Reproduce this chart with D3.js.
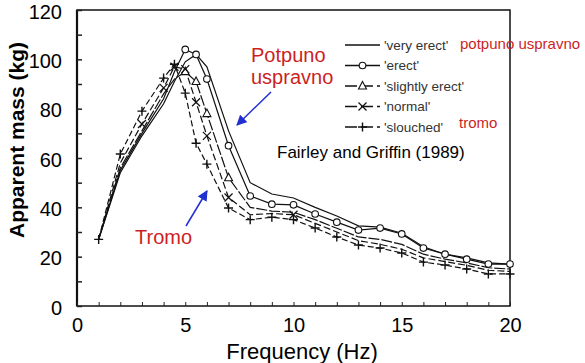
<!DOCTYPE html>
<html>
<head>
<meta charset="utf-8">
<script src="https://cdn.jsdelivr.net/npm/d3@7"></script>
<style>
  body { margin: 0; background: #fff; }
  svg text { font-family: "Liberation Sans", Arial, sans-serif; }
</style>
</head>
<body>
<svg id="chart" width="585" height="363"></svg>
<script>
// frequencies (Hz) shared by all series
const freqs = [1, 2, 3, 4, 4.5, 5, 5.5, 6, 7, 8, 9, 10, 11, 12, 13, 14, 15, 16, 17, 18, 19, 20];

// apparent mass (kg)
const veryErect     = [27, 54, 69, 82, 91, 99, 102, 97, 71, 50, 45.4, 43.8, 40, 36.5, 32.5, 32, 29.5, 24, 21, 19.5, 17.5, 17];
const erect         = [27, 55, 70, 84, 95, 104, 102, 92, 65, 44.6, 41.3, 41, 37.3, 34, 30.8, 31.6, 29.2, 23.5, 21, 19, 17, 17];
const slightlyErect = [27, 56, 71, 86, 92, 95, 91, 78, 52, 40, 38.5, 38, 35, 31.5, 28, 27, 25, 21, 19, 17.5, 15.5, 15];
const normal        = [27, 58, 73.8, 88.4, 97, 96, 82.6, 69, 44, 37, 37.5, 37, 33.5, 30, 26.5, 25, 23, 19.5, 18, 16.5, 14.5, 14];
const slouched      = [27, 61.6, 79, 92.4, 98, 86.3, 66, 57.5, 39.7, 35, 36, 35, 31.6, 28, 24.7, 23.5, 21.5, 17.8, 16.6, 15, 13, 13];

// frequencies where a symbol is visible in the figure
const erectMarks    = [5, 5.5, 6, 7, 8, 9, 10, 11, 12, 13, 14, 15, 16, 17, 18, 19, 20];
const slightlyMarks = [5, 5.5, 6, 7];
const normalMarks   = [3, 4, 4.5, 5, 5.5, 6, 7, 10];
const slouchedMarks = freqs;

const legendLabels = ["'very erect'", "'erect'", "'slightly erect'", "'normal'", "'slouched'"];
const xTicks = d3.range(0, 21, 1);
const xLabels = [0, 5, 10, 15, 20];
const yTicks = d3.range(0, 121, 10);
const yLabels = [0, 20, 40, 60, 80, 100, 120];

const svg = d3.select("#chart");
const x = d3.scaleLinear().domain([0, 20]).range([77, 510]);
const y = d3.scaleLinear().domain([0, 120]).range([306, 10]);

const series = [
  { name: legendLabels[0], values: veryErect, marks: [], sym: null, dash: null },
  { name: legendLabels[1], values: erect, marks: erectMarks, sym: "circle", dash: null },
  { name: legendLabels[2], values: slightlyErect, marks: slightlyMarks, sym: "triangle", dash: "11,2" },
  { name: legendLabels[3], values: normal, marks: normalMarks, sym: "x", dash: "7,3" },
  { name: legendLabels[4], values: slouched, marks: slouchedMarks, sym: "plus", dash: "6,3" }
];

// frame
svg.append("rect")
  .attr("x", x(0)).attr("y", y(120))
  .attr("width", x(20) - x(0)).attr("height", y(0) - y(120))
  .attr("fill", "none").attr("stroke", "#111").attr("stroke-width", 1.5);
svg.append("line")
  .attr("x1", x(0)).attr("x2", x(0)).attr("y1", y(120)).attr("y2", y(0))
  .attr("stroke", "#111").attr("stroke-width", 2.2);

// x axis (ticks inside)
svg.append("g")
  .attr("transform", `translate(0,${y(0)})`)
  .call(d3.axisTop(x).tickValues(xTicks).tickSize(4).tickFormat(""))
  .call(g => g.select(".domain").remove())
  .selectAll("line").attr("stroke", "#222");
svg.append("g")
  .attr("transform", `translate(0,${y(0)})`)
  .call(d3.axisBottom(x).tickValues(xLabels).tickSize(0).tickPadding(12).tickFormat(d3.format("d")))
  .call(g => g.select(".domain").remove())
  .selectAll("text").attr("font-size", 20).attr("fill", "#000")
  .style("font-family", "Liberation Sans, Arial, sans-serif");

// y axis (ticks inside)
svg.append("g")
  .attr("transform", `translate(${x(0)},0)`)
  .call(d3.axisRight(y).tickValues(yTicks).tickSize(5).tickFormat(""))
  .call(g => g.select(".domain").remove())
  .selectAll("line").attr("stroke", "#222").attr("stroke-width", 1.5);
svg.append("g")
  .attr("transform", `translate(${x(0)},0)`)
  .call(d3.axisLeft(y).tickValues(yLabels).tickSize(0).tickPadding(15).tickFormat(d3.format("d")))
  .call(g => g.select(".domain").remove())
  .selectAll("text").attr("font-size", 20).attr("fill", "#000").attr("dy", "0.4em")
  .style("font-family", "Liberation Sans, Arial, sans-serif");

// axis titles
svg.append("text")
  .attr("x", 302).attr("y", 359)
  .attr("text-anchor", "middle")
  .attr("font-size", 22)
  .text("Frequency (Hz)");
svg.append("text")
  .attr("transform", "translate(24,140) rotate(-90)")
  .attr("text-anchor", "middle")
  .attr("font-size", 21).attr("font-weight", "bold")
  .text("Apparent mass (kg)");

// symbols
function drawSymbol(g, type, cx, cy) {
  if (type === "circle") {
    g.append("circle").attr("cx", cx).attr("cy", cy).attr("r", 3.3)
      .attr("fill", "#fff").attr("stroke", "#111").attr("stroke-width", 1.1);
  } else if (type === "triangle") {
    g.append("path")
      .attr("d", `M${cx},${cy - 4.5}L${cx + 4},${cy + 3}L${cx - 4},${cy + 3}Z`)
      .attr("fill", "#fff").attr("stroke", "#111").attr("stroke-width", 1.1);
  } else if (type === "x") {
    g.append("path")
      .attr("d", `M${cx - 4},${cy - 4}L${cx + 4},${cy + 4}M${cx - 4},${cy + 4}L${cx + 4},${cy - 4}`)
      .attr("stroke", "#111").attr("stroke-width", 1.2);
  } else if (type === "plus") {
    g.append("path")
      .attr("d", `M${cx - 4.5},${cy}L${cx + 4.5},${cy}M${cx},${cy - 4.5}L${cx},${cy + 4.5}`)
      .attr("stroke", "#111").attr("stroke-width", 1.4);
  }
}

const line = d3.line()
  .x(d => x(d.f))
  .y(d => y(d.v));

const plot = svg.append("g");
series.forEach(s => {
  const pts = freqs.map((f, i) => ({ f: f, v: s.values[i] }));
  plot.append("path")
    .datum(pts)
    .attr("d", line)
    .attr("fill", "none")
    .attr("stroke", "#111")
    .attr("stroke-width", 1.2)
    .attr("stroke-dasharray", s.dash);
});
series.forEach(s => {
  const g = plot.append("g");
  freqs.forEach((f, i) => {
    if (s.sym && s.marks.includes(f)) drawSymbol(g, s.sym, x(f), y(s.values[i]));
  });
});

// legend
const lg = svg.append("g");
series.forEach((s, i) => {
  const ly = 45 + i * 20.5;
  lg.append("line")
    .attr("x1", 345).attr("x2", 380).attr("y1", ly).attr("y2", ly)
    .attr("stroke", "#111").attr("stroke-width", 1.3)
    .attr("stroke-dasharray", i >= 2 ? "12,4" : null);
  if (s.sym) drawSymbol(lg, s.sym, 362.5, ly);
  lg.append("text")
    .attr("x", 384).attr("y", ly + 4.5)
    .attr("font-size", 13.5).attr("fill", "#333")
    .text(s.name);
});

// annotations
const red = "#cc1f1f", blue = "#2030d0";
svg.append("text").attr("x", 460).attr("y", 49).attr("font-size", 15).attr("fill", red).text("potpuno uspravno");
svg.append("text").attr("x", 459).attr("y", 128).attr("font-size", 15).attr("fill", red).text("tromo");
svg.append("text").attr("x", 251).attr("y", 62).attr("font-size", 20).attr("fill", red).text("Potpuno");
svg.append("text").attr("x", 251).attr("y", 84).attr("font-size", 20).attr("fill", red).text("uspravno");
svg.append("text").attr("x", 135).attr("y", 244).attr("font-size", 20).attr("fill", red).text("Tromo");
svg.append("text").attr("x", 277).attr("y", 158).attr("font-size", 17).attr("fill", "#000").text("Fairley and Griffin (1989)");

svg.append("defs").append("marker")
  .attr("id", "head").attr("viewBox", "0 0 10 10")
  .attr("refX", 9).attr("refY", 5)
  .attr("markerWidth", 7).attr("markerHeight", 7)
  .attr("orient", "auto")
  .append("path").attr("d", "M0,0L10,5L0,10Z").attr("fill", blue);

svg.append("line")
  .attr("x1", 271).attr("y1", 92).attr("x2", 237).attr("y2", 125)
  .attr("stroke", blue).attr("stroke-width", 1.5).attr("marker-end", "url(#head)");
svg.append("line")
  .attr("x1", 186).attr("y1", 226).attr("x2", 207).attr("y2", 191)
  .attr("stroke", blue).attr("stroke-width", 1.5).attr("marker-end", "url(#head)");
</script>
</body>
</html>
